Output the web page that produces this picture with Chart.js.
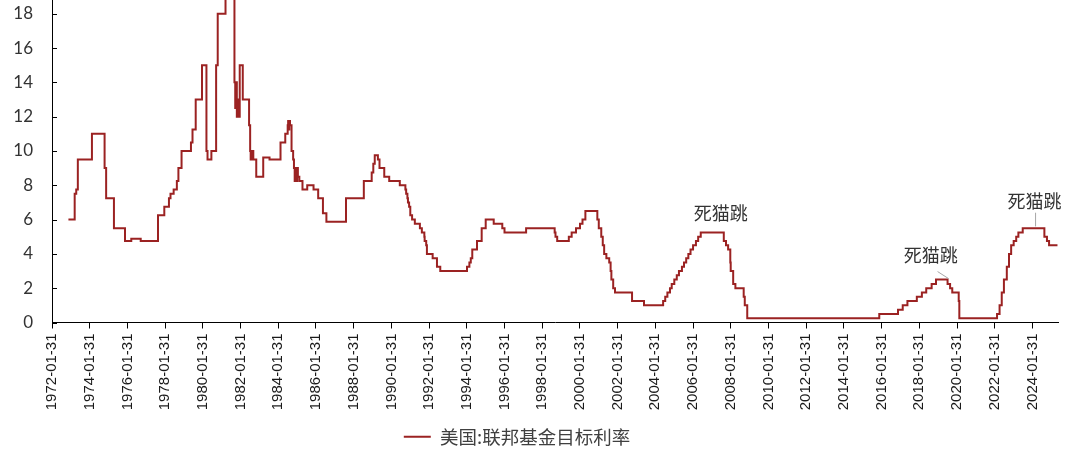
<!DOCTYPE html>
<html>
<head>
<meta charset="utf-8">
<script src="https://cdn.jsdelivr.net/npm/chart.js@4.4.1/dist/chart.umd.min.js"></script>
<style>
  html, body { margin: 0; padding: 0; background: #fff; }
  #wrap { width: 1071px; height: 456px; }
</style>
</head>
<body>
<div id="wrap"><canvas id="c" width="1071" height="456"></canvas></div>
<script>
// ========== 数据 ==========
var seriesName = '美国:联邦基金目标利率';

// 利率变动日期（变动后的值一直保持到下一个日期）
var dates = [
    '1972-12-15', '1973-04-15', '1973-05-15', '1973-06-15', '1974-03-15', '1974-11-15', '1974-12-15',
    '1975-05-15', '1975-12-15', '1976-04-15', '1976-10-15', '1977-09-15', '1978-01-15', '1978-04-15',
    '1978-05-15', '1978-07-15', '1978-09-15', '1978-10-15', '1978-12-15', '1979-06-15', '1979-07-15',
    '1979-09-15', '1980-01-15', '1980-04-10', '1980-05-01', '1980-07-15', '1980-10-15', '1980-11-15',
    '1981-04-15', '1981-10-05', '1981-10-20', '1981-11-05', '1981-11-20', '1981-12-05', '1981-12-25',
    '1982-01-15', '1982-03-15', '1982-07-15', '1982-08-05', '1982-08-15', '1982-08-25', '1982-09-05',
    '1982-09-20', '1982-10-05', '1982-12-01', '1983-04-15', '1983-08-15', '1984-03-15', '1984-06-15',
    '1984-08-01', '1984-08-10', '1984-08-20', '1984-09-01', '1984-09-15', '1984-10-15', '1984-11-15',
    '1984-12-01', '1984-12-15', '1985-01-01', '1985-01-15', '1985-02-01', '1985-02-15', '1985-03-15',
    '1985-05-15', '1985-08-15', '1985-12-15', '1986-03-15', '1986-06-15', '1986-08-21', '1987-09-04',
    '1988-08-15', '1989-01-15', '1989-02-15', '1989-03-15', '1989-05-15', '1989-06-15', '1989-09-15',
    '1989-12-20', '1990-07-13', '1990-10-29', '1990-11-13', '1990-12-07', '1990-12-18', '1991-01-09',
    '1991-02-01', '1991-03-08', '1991-04-30', '1991-08-06', '1991-09-13', '1991-10-31', '1991-11-06',
    '1991-12-06', '1991-12-20', '1992-04-09', '1992-07-02', '1992-09-04', '1994-02-04', '1994-03-22',
    '1994-04-18', '1994-05-17', '1994-08-16', '1994-11-15', '1995-02-01', '1995-07-06', '1995-12-19',
    '1996-01-31', '1997-03-25', '1998-09-29', '1998-10-15', '1998-11-17', '1999-06-30', '1999-08-24',
    '1999-11-16', '2000-02-02', '2000-03-21', '2000-05-16', '2001-01-03', '2001-01-31', '2001-03-20',
    '2001-04-18', '2001-05-15', '2001-06-27', '2001-08-21', '2001-09-17', '2001-10-02', '2001-11-06',
    '2001-12-11', '2002-11-06', '2003-06-25', '2004-06-30', '2004-08-10', '2004-09-21', '2004-11-10',
    '2004-12-14', '2005-02-02', '2005-03-22', '2005-05-03', '2005-06-30', '2005-08-09', '2005-09-20',
    '2005-11-01', '2005-12-13', '2006-01-31', '2006-03-28', '2006-05-10', '2006-06-29', '2007-09-18',
    '2007-10-31', '2007-12-11', '2008-01-22', '2008-01-30', '2008-03-18', '2008-04-30', '2008-10-08',
    '2008-10-29', '2008-12-16', '2015-12-17', '2016-12-15', '2017-03-16', '2017-06-15', '2017-12-14',
    '2018-03-22', '2018-06-14', '2018-09-27', '2018-12-20', '2019-08-01', '2019-09-19', '2019-10-31',
    '2020-03-04', '2020-03-16', '2022-03-17', '2022-05-05', '2022-06-16', '2022-07-28', '2022-09-22',
    '2022-11-03', '2022-12-15', '2023-02-02', '2023-03-23', '2023-05-04', '2023-07-27', '2024-09-19',
    '2024-11-08', '2024-12-19', '2025-05-31'
];

var rates = [
    6.0, 7.5, 7.75, 9.5, 11.0, 9.0, 7.25,
    5.5, 4.75, 4.875, 4.75, 6.25, 6.75, 7.25,
    7.5, 7.75, 8.25, 9.0, 10.0, 10.5, 11.25,
    13.0, 15.0, 10.0, 9.5, 10.0, 15.0, 18.0,
    20.0, 14.0, 12.5, 14.0, 12.0, 13.0, 12.0,
    15.0, 13.0, 11.5, 10.0, 9.5, 10.0, 9.5,
    10.0, 9.5, 8.5, 9.625, 9.5, 10.5, 11.0,
    11.5, 11.75, 11.25, 11.75, 11.5, 10.0, 9.5,
    9.0, 8.25, 9.0, 8.25, 9.0, 8.5, 8.25,
    7.75, 8.0, 7.75, 7.25, 6.375, 5.875, 7.25,
    8.25, 8.75, 9.25, 9.75, 9.5, 9.0, 8.5,
    8.25, 8.0, 7.75, 7.5, 7.25, 7.0, 6.75,
    6.25, 6.0, 5.75, 5.5, 5.25, 5.0, 4.75,
    4.5, 4.0, 3.75, 3.25, 3.0, 3.25, 3.5,
    3.75, 4.25, 4.75, 5.5, 6.0, 5.75, 5.5,
    5.25, 5.5, 5.25, 5.0, 4.75, 5.0, 5.25,
    5.5, 5.75, 6.0, 6.5, 6.0, 5.5, 5.0,
    4.5, 4.0, 3.75, 3.5, 3.0, 2.5, 2.0,
    1.75, 1.25, 1.0, 1.25, 1.5, 1.75, 2.0,
    2.25, 2.5, 2.75, 3.0, 3.25, 3.5, 3.75,
    4.0, 4.25, 4.5, 4.75, 5.0, 5.25, 4.75,
    4.5, 4.25, 3.5, 3.0, 2.25, 2.0, 1.5,
    1.0, 0.25, 0.5, 0.75, 1.0, 1.25, 1.5,
    1.75, 2.0, 2.25, 2.5, 2.25, 2.0, 1.75,
    1.25, 0.25, 0.5, 1.0, 1.75, 2.5, 3.25,
    4.0, 4.5, 4.75, 5.0, 5.25, 5.5, 5.0,
    4.75, 4.5, 4.5
];

// 横轴刻度（每两年一个）
var xTickLabels = [
    '1972-01-31', '1974-01-31', '1976-01-31', '1978-01-31', '1980-01-31', '1982-01-31', '1984-01-31',
    '1986-01-31', '1988-01-31', '1990-01-31', '1992-01-31', '1994-01-31', '1996-01-31', '1998-01-31',
    '2000-01-31', '2002-01-31', '2004-01-31', '2006-01-31', '2008-01-31', '2010-01-31', '2012-01-31',
    '2014-01-31', '2016-01-31', '2018-01-31', '2020-01-31', '2022-01-31', '2024-01-31'
];
var xStart = '1972-01-31';
var xEnd = '2025-06-10';

var yTicks = [0, 2, 4, 6, 8, 10, 12, 14, 16, 18];
var yMax = 18.8;

// 标注：文字位置 (日期, 利率) 与引线
var noteText = '死猫跳';
var noteDates = ['2007-07-20', '2018-09-10', '2024-03-10'];
var noteRates = [6.35, 3.9, 7.1];
var leaderFrom = [null, ['2019-01-20', 2.97], ['2024-04-01', 6.4]];
var leaderTo = [null, ['2019-08-20', 2.56], ['2024-04-01', 5.6]];

// ========== 工具 ==========
function toYear(s) {
    var p = s.split('-');
    var y = +p[0];
    var t = Date.UTC(y, +p[1] - 1, +p[2]);
    var y0 = Date.UTC(y, 0, 1);
    return y + (t - y0) / (Date.UTC(y + 1, 0, 1) - y0);
}

var points = dates.map(function(d, i) {
    return { x: toYear(d), y: rates[i] };
});
var xTickVals = xTickLabels.map(toYear);

var lineColor = '#9b2222';
var cjkFont = "'Noto Sans CJK SC', 'Noto Sans', sans-serif";

// ========== 插件：纵轴内刻度 + 标注 ==========
var extras = {
    id: 'extras',
    afterLayout: function(chart) {
        chart.legend.left -= 12;
        chart.legend.right -= 12;
    },
    afterDraw: function(chart) {
        var ctx = chart.ctx;
        var xs = chart.scales.x;
        var ys = chart.scales.y;
        ctx.save();
        ctx.strokeStyle = '#000';
        ctx.lineWidth = 1;
        yTicks.forEach(function(v) {
            var py = Math.round(ys.getPixelForValue(v)) + 0.5;
            ctx.beginPath();
            ctx.moveTo(xs.left, py);
            ctx.lineTo(xs.left + 5, py);
            ctx.stroke();
        });

        ctx.strokeStyle = '#a6a6a6';
        leaderFrom.forEach(function(a, i) {
            if (!a) return;
            var b = leaderTo[i];
            ctx.beginPath();
            ctx.moveTo(xs.getPixelForValue(toYear(a[0])), ys.getPixelForValue(a[1]));
            ctx.lineTo(xs.getPixelForValue(toYear(b[0])), ys.getPixelForValue(b[1]));
            ctx.stroke();
        });

        ctx.fillStyle = '#333';
        ctx.font = '18px ' + cjkFont;
        ctx.textAlign = 'center';
        ctx.textBaseline = 'middle';
        noteDates.forEach(function(d, i) {
            ctx.fillText(noteText, xs.getPixelForValue(toYear(d)), ys.getPixelForValue(noteRates[i]));
        });
        ctx.restore();
    }
};

// ========== 图表 ==========
new Chart(document.getElementById('c').getContext('2d'), {
    type: 'line',
    data: {
        datasets: [{
            label: seriesName,
            data: points,
            borderColor: lineColor,
            backgroundColor: lineColor,
            borderWidth: 2,
            stepped: true,
            pointRadius: 0,
            pointStyle: 'line',
            fill: false
        }]
    },
    options: {
        responsive: false,
        animation: false,
        devicePixelRatio: 1,
        layout: { padding: { left: 0, right: 13, top: 0, bottom: 0 } },
        plugins: {
            legend: {
                position: 'bottom',
                labels: {
                    usePointStyle: true,
                    pointStyleWidth: 27,
                    boxHeight: 10,
                    color: '#404040',
                    font: { family: cjkFont, size: 18.5 },
                    padding: 7
                }
            },
            tooltip: { enabled: false }
        },
        scales: {
            x: {
                type: 'linear',
                min: toYear(xStart),
                max: toYear(xEnd),
                afterBuildTicks: function(s) {
                    s.ticks = xTickVals.map(function(v) { return { value: v }; });
                },
                afterFit: function(s) { s.height = 98; },
                ticks: {
                    autoSkip: false,
                    minRotation: 90,
                    maxRotation: 90,
                    padding: 5,
                    color: '#1a1a1a',
                    font: { family: "'Liberation Sans', Arial, sans-serif", size: 15 },
                    callback: function(value, index) { return xTickLabels[index]; }
                },
                grid: {
                    display: true,
                    drawOnChartArea: false,
                    drawTicks: true,
                    tickLength: 6,
                    color: '#000',
                    lineWidth: 1
                },
                border: { display: true, color: '#000', width: 1 }
            },
            y: {
                min: 0,
                max: yMax,
                afterBuildTicks: function(s) {
                    s.ticks = yTicks.map(function(v) { return { value: v }; });
                },
                afterFit: function(s) {
                    s.width = 52;
                    s.paddingTop = 0;
                    s.paddingBottom = 0;
                },
                ticks: {
                    padding: 19,
                    color: '#333',
                    font: { family: "Lato, 'Open Sans', sans-serif", size: 17 }
                },
                grid: { display: false, drawTicks: false },
                border: { display: true, color: '#000', width: 1 }
            }
        }
    },
    plugins: [extras]
});
</script>
</body>
</html>
